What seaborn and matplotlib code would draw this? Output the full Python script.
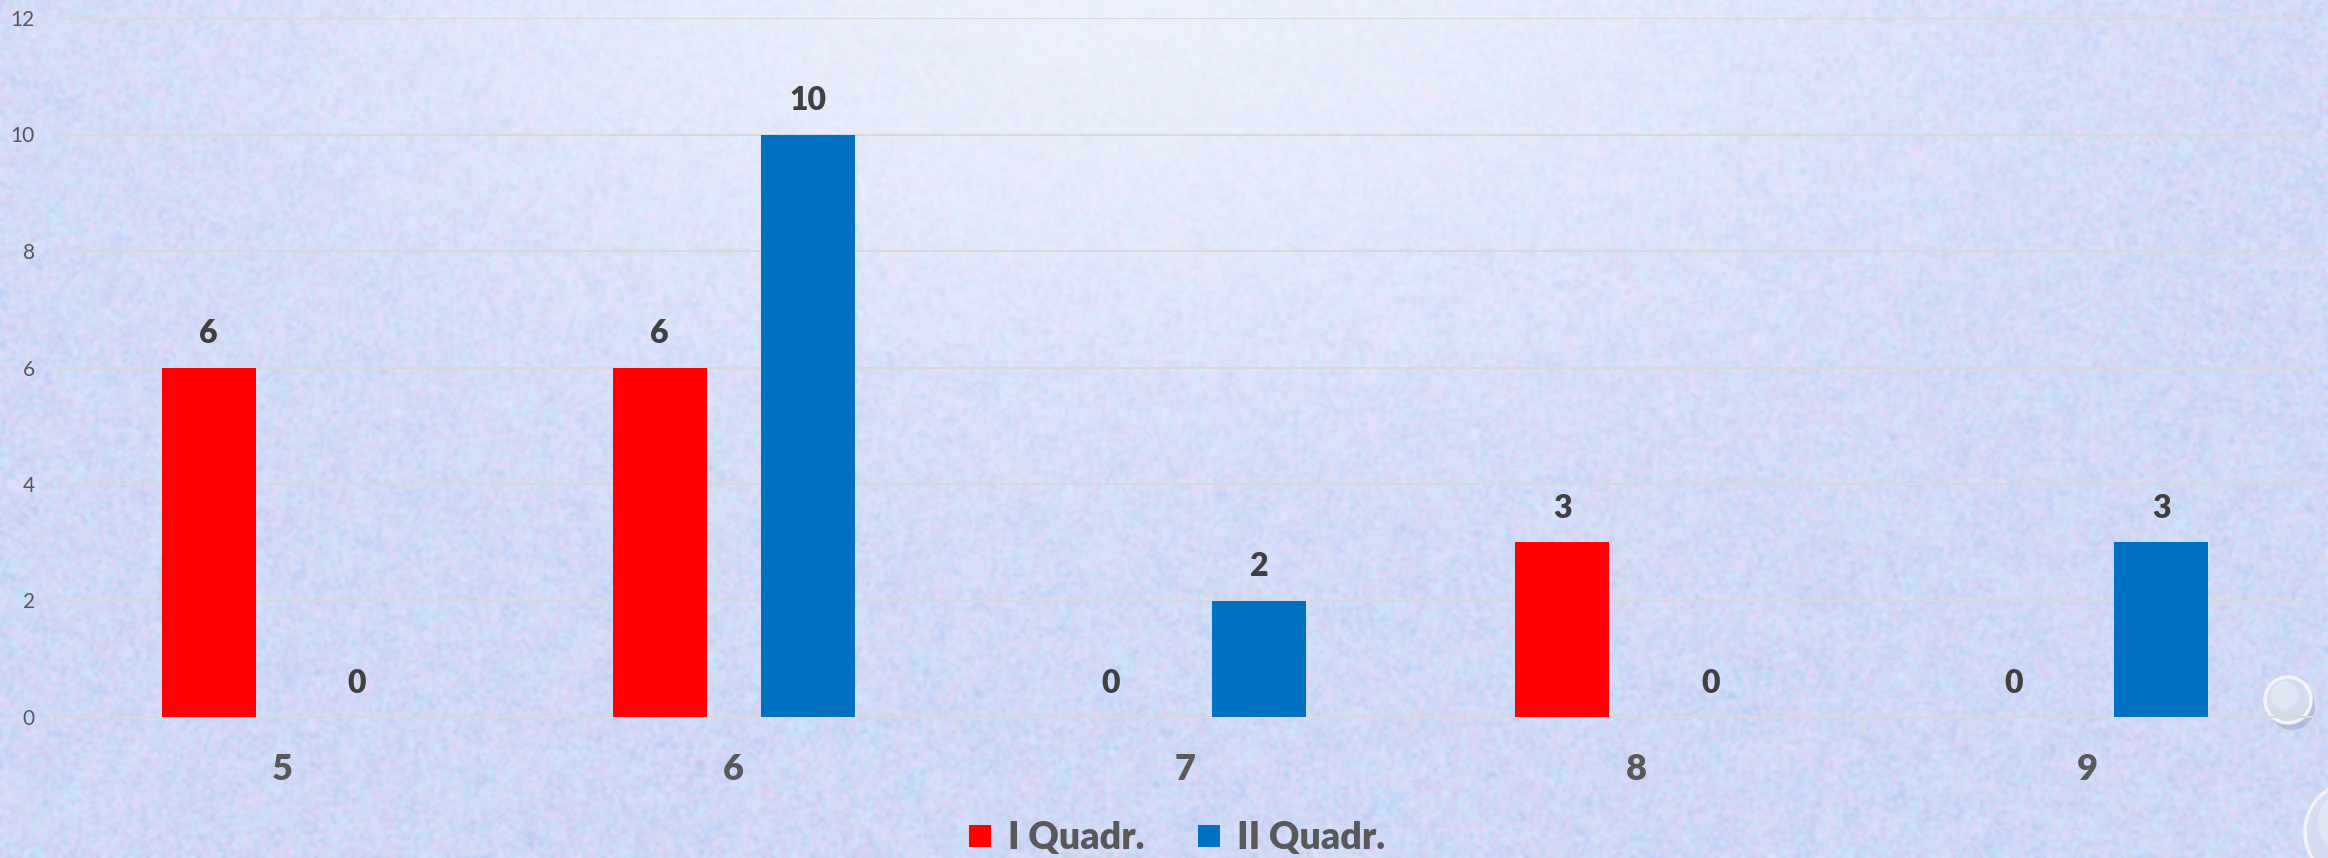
import numpy as np
import pandas as pd
import matplotlib
matplotlib.use("Agg")
import matplotlib.pyplot as plt
import seaborn as sns
from matplotlib.patches import Circle
from matplotlib.lines import Line2D

# --- data -------------------------------------------------------------
classes = ["5", "6", "7", "8", "9"]
series = ["I Quadr.", "II Quadr."]
q1_values = [6, 6, 0, 3, 0]
q2_values = [0, 10, 2, 0, 3]
series_colors = ["#FF0000", "#0070C0"]
y_ticks = [0, 2, 4, 6, 8, 10, 12]

df = pd.DataFrame({
    "Classe": classes * 2,
    "Serie": [series[0]] * len(classes) + [series[1]] * len(classes),
    "Valore": q1_values + q2_values,
})

sns.set_theme(style="white")
plt.rcParams["font.family"] = ["Lato", "DejaVu Sans"]

W, H = 2328, 858
fig = plt.figure(figsize=(W / 100, H / 100), dpi=100)


def box_blur(a, k):
    """Separable box blur of a 2D field."""
    kern = np.ones(k) / k
    a = np.apply_along_axis(lambda r: np.convolve(r, kern, mode="same"), 1, a)
    a = np.apply_along_axis(lambda c: np.convolve(c, kern, mode="same"), 0, a)
    return a


# --- pastel paper background -------------------------------------------
bg = fig.add_axes([0, 0, 1, 1])
bg.set_axis_off()
rng = np.random.default_rng(11)
step = 3
h, w = H // step, W // step
yy, xx = np.mgrid[0:h, 0:w]
tints = np.array([
    [182, 204, 246],   # blue
    [234, 210, 244],   # pink
    [196, 234, 250],   # cyan
    [222, 226, 252],   # pale lavender
]) / 255
pad = 8
fields = []
for _ in range(len(tints)):
    coarse = box_blur(rng.random((h + 2 * pad, w + 2 * pad)), 7)[pad:-pad, pad:-pad]
    fine = rng.random((h, w))
    fields.append(0.65 * coarse + 0.35 * fine)
fields = np.stack(fields, axis=2)
weights = np.exp((fields - fields.mean()) * 14)
weights /= weights.sum(axis=2, keepdims=True)
img = weights @ tints
img *= (0.96 + 0.06 * rng.random((h, w)))[..., None]
glow = np.exp(-(((xx * step - 1120) / 820) ** 2 + ((yy * step + 40) / 430) ** 2))
img = img * (1 - 0.72 * glow[..., None]) + 0.72 * np.array([0.97, 0.98, 1.0]) * glow[..., None]
img = np.clip(img, 0, 1)
bg.imshow(img, extent=[0, W, H, 0], interpolation="bicubic", aspect="auto")
bg.set_xlim(0, W)
bg.set_ylim(H, 0)
# small water drops in the lower right corner
for cx, cy, r in [(2288, 700, 23), (2355, 832, 50)]:
    bg.add_patch(Circle((cx + 4, cy + 7), r, color=(0.42, 0.46, 0.56), alpha=0.25, lw=0))
    bg.add_patch(Circle((cx, cy), r, facecolor=(0.84, 0.87, 0.94), edgecolor=(0.96, 0.96, 0.98),
                        lw=2.5, alpha=0.95))
    bg.add_patch(Circle((cx - r * 0.15, cy - r * 0.2), r * 0.6, color="white", alpha=0.3, lw=0))

# --- bar chart ---------------------------------------------------------
ax = fig.add_axes([57 / W, 1 - 717 / H, (2313 - 57) / W, (717 - 18) / H])
ax.patch.set_alpha(0)
grid_col = "#d9d9d9"

sns.barplot(data=df, x="Classe", y="Valore", hue="Serie", palette=series_colors,
            saturation=1, width=0.656, gap=0.366, legend=False, ax=ax, zorder=3,
            linewidth=0, edgecolor="none")

ax.set_ylim(0, 12)
ax.set_xlim(-0.5, len(classes) - 0.5)
ax.set_yticks(y_ticks)
ax.set_yticklabels([str(t) for t in y_ticks], fontsize=15, color="#595959")
ax.yaxis.grid(True, color=grid_col, lw=1.5, zorder=0)
ax.set_axisbelow(True)
ax.tick_params(axis="y", length=0, pad=16)

ax.set_xticks(range(len(classes)))
ax.set_xticklabels(classes, fontsize=26, fontweight="heavy", color="#595959")
ax.tick_params(axis="x", which="major", length=0, pad=26)
ax.set_xticks(np.arange(-0.5, len(classes), 1.0), minor=True)
ax.tick_params(axis="x", which="minor", length=9.5, width=1.5, color=grid_col, bottom=True)

for s in ["top", "right", "left"]:
    ax.spines[s].set_visible(False)
ax.spines["bottom"].set_color(grid_col)
ax.spines["bottom"].set_linewidth(1.5)
ax.set_xlabel("")
ax.set_ylabel("")

for cont in ax.containers:
    ax.bar_label(cont, fmt="%d", padding=14, fontsize=23, fontweight="heavy", color="#404040")

# --- legend ------------------------------------------------------------
handles = [Line2D([], [], marker="s", ls="", markersize=16, color=c, markeredgewidth=0)
           for c in series_colors]
fig.legend(handles, series, loc="center", bbox_to_anchor=(1175 / W, 1 - 838 / H),
           ncol=2, frameon=False, handlelength=0.8, handletextpad=0.35, columnspacing=1.3,
           prop={"size": 27, "weight": "heavy"}, labelcolor="#595959")

fig.savefig("out.png", dpi=100)
